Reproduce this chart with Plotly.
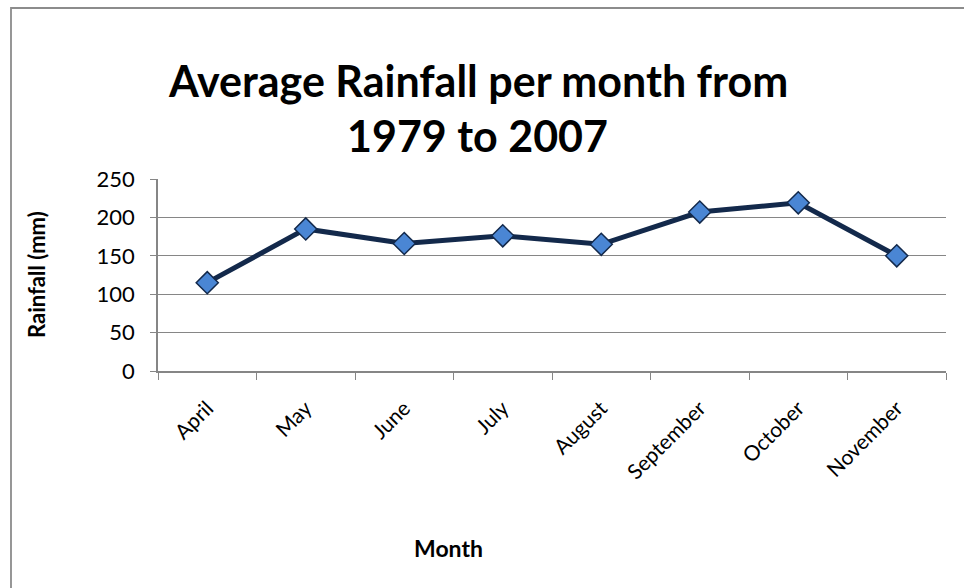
import plotly.graph_objects as go

# Average monthly rainfall, 1979-2007
months = ["April", "May", "June", "July", "August", "September", "October", "November"]
rainfall_mm = [115, 185, 166, 176, 165, 207, 219, 150]
y_ticks = [0, 50, 100, 150, 200, 250]

FONT = "Lato"
NAVY = "#13294b"
MARKER_FILL = "#4a86d4"
GRID = "#868686"

# plot-area geometry in pixels
W, H = 964, 588
L, R, T, B = 158, 18, 179, 217
PW, PH = W - L - R, H - T - B


def px_x(x):
    return (x - L) / PW


def px_y(y):
    return (H - B - y) / PH


fig = go.Figure(
    go.Scatter(
        x=months,
        y=rainfall_mm,
        mode="lines+markers",
        line=dict(color=NAVY, width=5),
        marker=dict(symbol="diamond", size=17, color=MARKER_FILL,
                    line=dict(color=NAVY, width=1.5)),
        cliponaxis=False,
        showlegend=False,
    )
)

fig.update_layout(
    width=W,
    height=H,
    margin=dict(l=L, r=R, t=T, b=B, pad=0),
    paper_bgcolor="white",
    plot_bgcolor="white",
    font=dict(family=FONT, color="black"),
    xaxis=dict(
        type="category",
        range=[-0.5, len(months) - 0.5],
        tickson="boundaries",
        ticks="outside",
        ticklen=7,
        tickcolor=GRID,
        tickangle=-45,
        tickfont=dict(size=21, family=FONT),
        ticklabelstandoff=15,
        showline=True,
        linecolor=GRID,
        linewidth=1.5,
        showgrid=False,
        zeroline=False,
    ),
    yaxis=dict(
        range=[0, 250],
        tickvals=y_ticks,
        ticks="outside",
        ticklen=6,
        tickcolor=GRID,
        tickfont=dict(size=22, family=FONT),
        ticklabelstandoff=11,
        showline=True,
        linecolor=GRID,
        linewidth=1.5,
        showgrid=True,
        gridcolor=GRID,
        gridwidth=1.2,
        zeroline=False,
    ),
    shapes=[
        dict(type="rect", xref="paper", yref="paper",
             x0=px_x(11), x1=px_x(990), y0=px_y(620), y1=px_y(8),
             line=dict(color="#8c8c8c", width=1.8), fillcolor="rgba(0,0,0,0)",
             layer="below"),
    ],
    annotations=[
        dict(text="<b>Average Rainfall per month from</b>", xref="paper", yref="paper",
             x=px_x(477.5), y=px_y(80), xanchor="center", yanchor="middle",
             showarrow=False, font=dict(size=43, family=FONT)),
        dict(text="<b>1979 to 2007</b>", xref="paper", yref="paper",
             x=px_x(477.5), y=px_y(135), xanchor="center", yanchor="middle",
             showarrow=False, font=dict(size=43, family=FONT)),
        dict(text="<b>Rainfall (mm)</b>", xref="paper", yref="paper",
             x=px_x(36), y=px_y(275), xanchor="center", yanchor="middle",
             textangle=-90, showarrow=False, font=dict(size=22, family=FONT)),
        dict(text="<b>Month</b>", xref="paper", yref="paper",
             x=px_x(448), y=px_y(548), xanchor="center", yanchor="middle",
             showarrow=False, font=dict(size=23, family=FONT)),
    ],
)

fig.write_html("out.html")
